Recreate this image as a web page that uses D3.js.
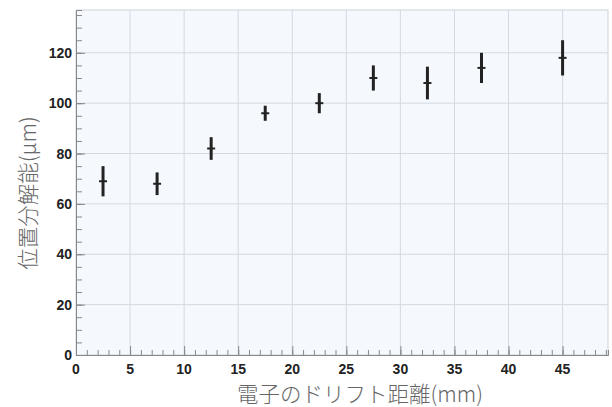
<!DOCTYPE html>
<html><head><meta charset="utf-8">
<script src="https://cdn.jsdelivr.net/npm/d3@7"></script>
<style>body{margin:0;background:#fff}svg{display:block}</style>
</head><body>
<script>
const distances = [2.5, 7.5, 12.5, 17.5, 22.5, 27.5, 32.5, 37.5, 45];
const resolution = [69, 68, 82, 96, 100, 110, 108, 114, 118];
const resolutionErr = [6, 4.5, 4.5, 3, 4, 5, 6.5, 6, 7];
const xTicks = [0, 5, 10, 15, 20, 25, 30, 35, 40, 45];
const yTicks = [0, 20, 40, 60, 80, 100, 120];
const xTitle = "電子のドリフト距離(mm)";
const yTitle = "位置分解能(μm)";

const W = 612, H = 407;
const m = {l: 76, r: 4, t: 10, b: 52};
const svg = d3.select("body").append("svg").attr("width", W).attr("height", H);
const x = d3.scaleLinear().domain([0, 49.2]).range([m.l, W - m.r]);
const y = d3.scaleLinear().domain([0, 137]).range([H - m.b, m.t]);

svg.append("rect").attr("x", m.l).attr("y", m.t).attr("width", W - m.r - m.l).attr("height", H - m.b - m.t)
  .attr("fill", "#f5f9fe").attr("stroke", "#cdd2da").attr("stroke-width", 1);

// grid
svg.append("g").selectAll("line").data(xTicks.filter(d => d > 0)).join("line")
  .attr("x1", d => x(d)).attr("x2", d => x(d)).attr("y1", m.t).attr("y2", H - m.b)
  .attr("stroke", "#d3d9e2").attr("stroke-width", 1);
svg.append("g").selectAll("line").data(yTicks.filter(d => d > 0)).join("line")
  .attr("y1", d => y(d)).attr("y2", d => y(d)).attr("x1", m.l).attr("x2", W - m.r)
  .attr("stroke", "#d3d9e2").attr("stroke-width", 1);

// axes with inward ticks
const xMinor = d3.range(0, 50, 1);
const yMinor = d3.range(0, 137, 5);
svg.append("g").attr("transform", `translate(0,${H - m.b})`)
  .call(d3.axisTop(x).tickValues(xMinor).tickSize(5).tickFormat(""))
  .call(g => g.selectAll("line").attr("stroke", "#888"))
  .call(g => g.select(".domain").attr("stroke", "#888"));
svg.append("g").attr("transform", `translate(0,${H - m.b})`)
  .call(d3.axisTop(x).tickValues(xTicks).tickSize(9).tickFormat(""))
  .call(g => g.selectAll("line").attr("stroke", "#888"))
  .call(g => g.select(".domain").remove());
svg.append("g").attr("transform", `translate(${m.l},0)`)
  .call(d3.axisRight(y).tickValues(yMinor).tickSize(6).tickFormat(""))
  .call(g => g.selectAll("line").attr("stroke", "#888"))
  .call(g => g.select(".domain").attr("stroke", "#888"));
svg.append("g").attr("transform", `translate(${m.l},0)`)
  .call(d3.axisRight(y).tickValues(yTicks).tickSize(9).tickFormat(""))
  .call(g => g.selectAll("line").attr("stroke", "#888"))
  .call(g => g.select(".domain").remove());

// tick labels
svg.append("g").selectAll("text").data(xTicks).join("text")
  .attr("x", d => x(d)).attr("y", H - m.b + 19).attr("text-anchor", "middle")
  .attr("font-family", "Liberation Sans, Arial, sans-serif").attr("font-weight", "bold")
  .attr("font-size", 14).attr("fill", "#222").text(d => d);
svg.append("g").selectAll("text").data(yTicks).join("text")
  .attr("x", m.l - 4).attr("y", d => y(d) + 5).attr("text-anchor", "end")
  .attr("font-family", "Liberation Sans, Arial, sans-serif").attr("font-weight", "bold")
  .attr("font-size", 14).attr("fill", "#222").text(d => d);

// titles
svg.append("text").attr("x", 360).attr("y", 402).attr("text-anchor", "middle")
  .attr("font-family", "Noto Sans CJK JP").attr("font-weight", 300).attr("font-size", 21.5)
  .attr("fill", "#666").text(xTitle);
svg.append("text").attr("transform", "translate(36,193) rotate(-90)").attr("text-anchor", "middle")
  .attr("font-family", "Noto Sans CJK JP").attr("font-weight", 300).attr("font-size", 21.5)
  .attr("fill", "#666").text(yTitle);

// data
const pts = distances.map((d, i) => ({x: d, y: resolution[i], e: resolutionErr[i]}));
const g = svg.append("g");
g.selectAll("line.err").data(pts).join("line").attr("class", "err")
  .attr("x1", d => x(d.x)).attr("x2", d => x(d.x))
  .attr("y1", d => y(d.y - d.e)).attr("y2", d => y(d.y + d.e))
  .attr("stroke", "#222").attr("stroke-width", 3);
g.selectAll("line.mk").data(pts).join("line").attr("class", "mk")
  .attr("x1", d => x(d.x) - 4).attr("x2", d => x(d.x) + 4)
  .attr("y1", d => y(d.y)).attr("y2", d => y(d.y))
  .attr("stroke", "#222").attr("stroke-width", 2);
</script>
</body></html>
